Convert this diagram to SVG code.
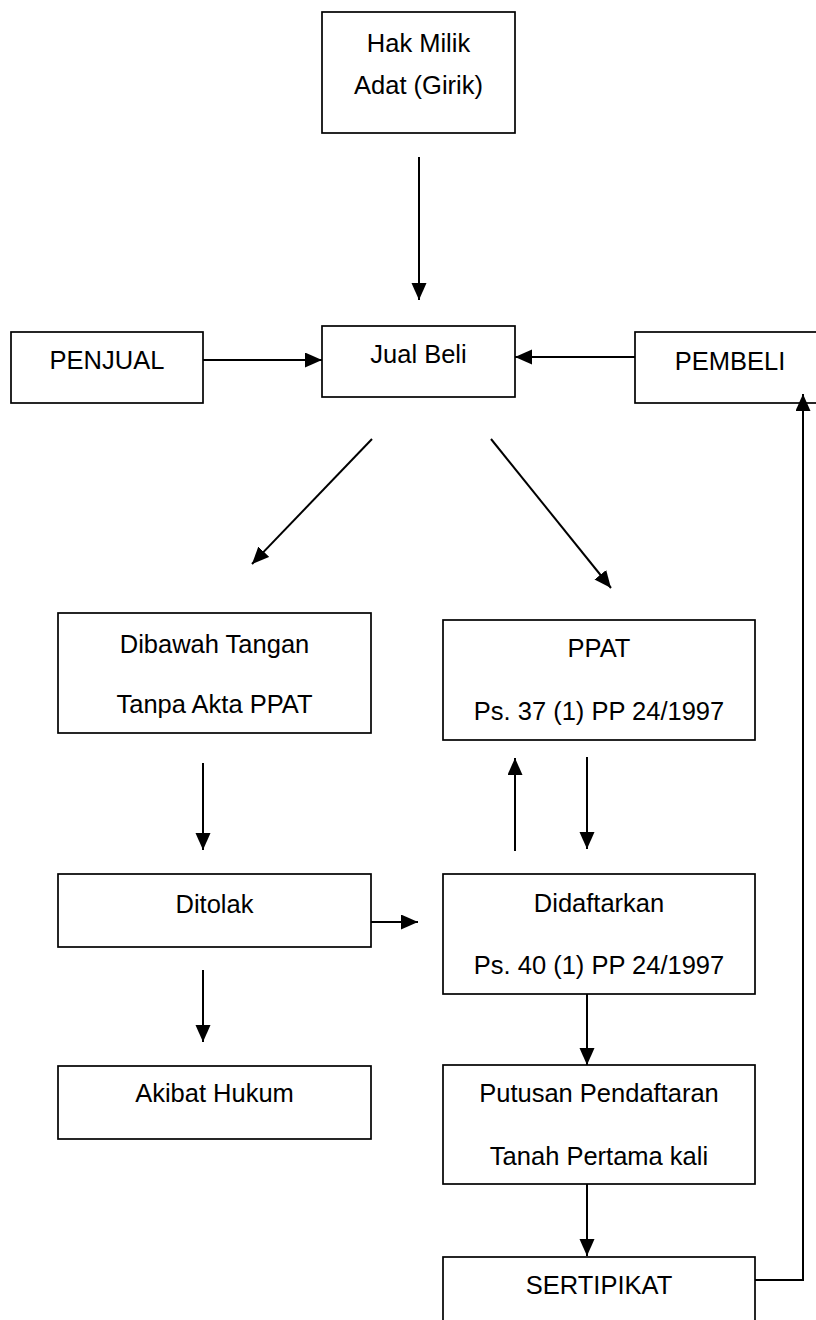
<svg xmlns="http://www.w3.org/2000/svg" width="816" height="1320" viewBox="0 0 816 1320">
<style>
.box{fill:#fff;stroke:#000;stroke-width:1.7}
.t{font-family:"Liberation Sans",Arial,sans-serif;font-size:25.5px;fill:#000;text-anchor:middle}
.c{fill:none;stroke:#000;stroke-width:2}
</style>
<defs>
<marker id="ah" markerUnits="userSpaceOnUse" markerWidth="20" markerHeight="18" refX="17" refY="7.5" orient="auto">
<path d="M0,0 L17,7.5 L0,15 z" fill="#000"/>
</marker>
</defs>
<rect width="816" height="1320" fill="#fff"/>
<g id="connectors">
<line class="c" x1="419" y1="157" x2="419" y2="300" marker-end="url(#ah)"/>
<line class="c" x1="203" y1="360" x2="322" y2="360" marker-end="url(#ah)"/>
<line class="c" x1="635" y1="357" x2="515" y2="357" marker-end="url(#ah)"/>
<line class="c" x1="372" y1="439" x2="252" y2="564" marker-end="url(#ah)"/>
<line class="c" x1="491" y1="439" x2="611" y2="588" marker-end="url(#ah)"/>
<line class="c" x1="203" y1="763" x2="203" y2="850" marker-end="url(#ah)"/>
<line class="c" x1="515" y1="851" x2="515" y2="758" marker-end="url(#ah)"/>
<line class="c" x1="587" y1="757" x2="587" y2="849" marker-end="url(#ah)"/>
<line class="c" x1="371" y1="922" x2="418" y2="922" marker-end="url(#ah)"/>
<line class="c" x1="203" y1="970" x2="203" y2="1042" marker-end="url(#ah)"/>
<line class="c" x1="587" y1="994" x2="587" y2="1065" marker-end="url(#ah)"/>
<line class="c" x1="587" y1="1184" x2="587" y2="1256" marker-end="url(#ah)"/>
</g>
<g id="n-hakmilik"><rect class="box" x="322" y="12" width="193" height="121"/><text class="t" x="418.5" y="52">Hak Milik</text><text class="t" x="418.5" y="94">Adat (Girik)</text></g>
<g id="n-penjual"><rect class="box" x="11" y="332" width="192" height="71"/><text class="t" x="107" y="369">PENJUAL</text></g>
<g id="n-jualbeli"><rect class="box" x="322" y="326" width="193" height="71"/><text class="t" x="418.5" y="363">Jual Beli</text></g>
<g id="n-pembeli"><rect class="box" x="635" y="332" width="195" height="71"/><text class="t" x="730" y="370">PEMBELI</text></g>
<g id="n-dibawah"><rect class="box" x="58" y="613" width="313" height="120"/><text class="t" x="214.5" y="653">Dibawah Tangan</text><text class="t" x="214.5" y="713">Tanpa Akta PPAT</text></g>
<g id="n-ppat"><rect class="box" x="443" y="620" width="312" height="120"/><text class="t" x="599" y="657">PPAT</text><text class="t" x="599" y="720">Ps. 37 (1) PP 24/1997</text></g>
<g id="n-ditolak"><rect class="box" x="58" y="874" width="313" height="73"/><text class="t" x="214.5" y="913">Ditolak</text></g>
<g id="n-didaftarkan"><rect class="box" x="443" y="874" width="312" height="120"/><text class="t" x="599" y="912">Didaftarkan</text><text class="t" x="599" y="974">Ps. 40 (1) PP 24/1997</text></g>
<g id="n-akibat"><rect class="box" x="58" y="1066" width="313" height="73"/><text class="t" x="214.5" y="1102">Akibat Hukum</text></g>
<g id="n-putusan"><rect class="box" x="443" y="1065" width="312" height="119"/><text class="t" x="599" y="1102">Putusan Pendaftaran</text><text class="t" x="599" y="1165">Tanah Pertama kali</text></g>
<g id="n-sertipikat"><rect class="box" x="443" y="1257" width="312" height="80"/><text class="t" x="599" y="1294">SERTIPIKAT</text></g>
<g id="connectors-return">
<polyline class="c" points="755,1280 803,1280 803,394" marker-end="url(#ah)"/>
</g>
</svg>
